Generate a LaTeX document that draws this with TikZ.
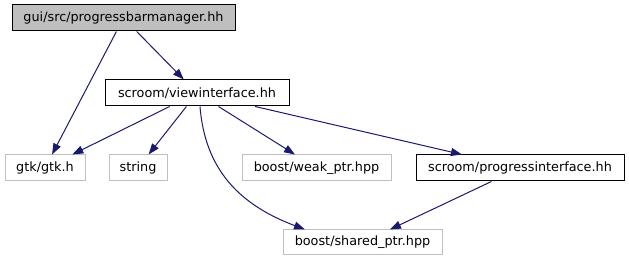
\documentclass[tikz,border=0pt]{standalone}
\usepackage{fontspec}
\setmainfont{DejaVu Sans}
\usetikzlibrary{arrows.meta,calc}
\definecolor{edgeblue}{HTML}{191970}
\definecolor{boxgrey}{HTML}{BFBFBF}
\begin{document}
\begin{tikzpicture}[x=1pt,y=-1pt,
  file/.style={draw=black,line width=1pt,fill=white,minimum height=26pt,inner sep=0pt,font=\fontsize{12.8pt}{15pt}\selectfont},
  current/.style={file,fill=boxgrey},
  external/.style={file,draw=boxgrey},
  dep/.style={draw=edgeblue,line width=1pt,-{Triangle[length=11pt,width=8pt]},fill=none}
]
\useasboundingbox (0,0) rectangle (629,261);
\node[current,minimum width=223pt] (pbm) at (123.5,18) {gui/src/progressbarmanager.hh};
\node[file,minimum width=184pt] (vi) at (197,93) {scroom/viewinterface.hh};
\node[external,minimum width=80pt] (gtk) at (45,168) {gtk/gtk.h};
\node[external,minimum width=58pt] (str) at (138,168) {string};
\node[external,minimum width=149pt] (weak) at (316.5,168) {boost/weak\_ptr.hpp};
\node[file,minimum width=208pt] (pi) at (520,168) {scroom/progressinterface.hh};
\node[external,minimum width=159pt,minimum height=25pt] (shared) at (362.5,242.5) {boost/shared\_ptr.hpp};
\begin{scope}[every path/.append style={dep}]
\draw (pbm) -- (gtk);
\draw (pbm) -- (vi);
\draw (vi) -- (gtk);
\draw (vi) -- (str);
\draw ($(vi.south)+(3,0)$) .. controls (205,170) and (240,205) .. (shared.north west -| 305,0);
\draw (vi) -- (weak);
\draw (vi) -- (pi);
\draw (pi) -- (shared);
\end{scope}
\end{tikzpicture}
\end{document}
